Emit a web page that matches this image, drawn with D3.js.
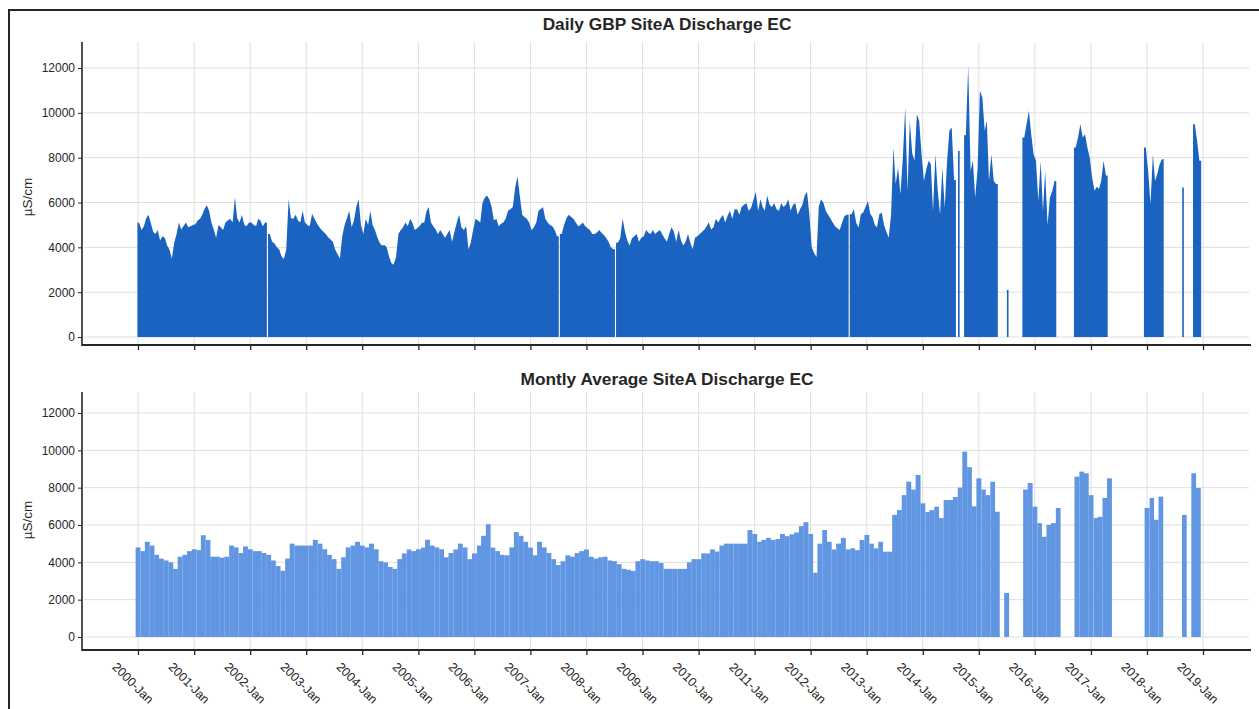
<!DOCTYPE html>
<html>
<head>
<meta charset="utf-8">
<script src="https://cdn.jsdelivr.net/npm/d3@7"></script>
<style>
  body { margin: 0; background: #fff; }
  svg { display: block; }
  text { font-family: "Liberation Sans", Arial, sans-serif; }
</style>
</head>
<body>
<svg id="chart" width="1259" height="709"></svg>
<script>
// ---- data -------------------------------------------------------------
const years = d3.range(2000, 2020);
const yearLabels = years.map(y => `${y}-Jan`);
const yTicks = [0, 2000, 4000, 6000, 8000, 10000, 12000];
const unitLabel = "µS/cm";
const titles = ["Daily GBP SiteA Discharge EC", "Montly Average SiteA Discharge EC"];

// Discharge EC (µS/cm), sampled on the 1st and 16th of each month, 2000-01 .. 2018-12
const dailyEC = [
  // 2000
  5100, 4770, 4940, 5300, 5450, 5110, 4700, 4600, 4770, 4300, 4500, 4430,
  4080, 3900, 3500, 4200, 4600, 5110, 4800, 4950, 5110, 4900, 4940, 5000,
  // 2001
  5030, 5200, 5280, 5450, 5700, 5880, 5630, 5100, 4800, 4430, 5000, 4900,
  4770, 5110, 5200, 5280, 5110, 6230, 5300, 5110, 5450, 5000, 4940, 5110,
  // 2002
  5110, 5000, 4940, 5280, 5200, 4940, 5110, null, 4600, 4250, 4170, 4000,
  3910, 3600, 3480, 3900, 6140, 5300, 5280, 5450, 5200, 5110, 5630, 5110,
  // 2003
  5000, 4940, 5500, 5300, 5110, 4940, 4800, 4700, 4600, 4450, 4350, 4250,
  3900, 3700, 3500, 4500, 5000, 5300, 5630, 4900, 5200, 5800, 6140, 5000,
  // 2004
  4600, 5280, 5000, 5630, 5000, 4770, 4450, 4200, 4080, 4100, 4000, 3600,
  3300, 3220, 3570, 4600, 4770, 4900, 5110, 4940, 5280, 5100, 4770, 4850,
  // 2005
  4940, 5100, 5110, 5600, 5800, 5110, 4940, 4800, 4600, 4770, 4600, 4430,
  4600, 4770, 4250, 4700, 5110, 5450, 4900, 4770, 4940, 3900, 4200, 4770,
  // 2006
  5280, 5200, 5110, 5970, 6200, 6310, 6140, 5800, 5200, 5280, 4940, 5050,
  5110, 5280, 5630, 5700, 5800, 6650, 7170, 6300, 5450, 5350, 5280, 5110,
  // 2007
  4770, 4900, 5110, 5630, 5700, 5800, 5280, 5110, 5000, 4940, 4770, 4500,
  null, 4600, 5000, 5300, 5450, 5350, 5280, 5110, 4940, 5000, 5110, 4940,
  // 2008
  4850, 4770, 4600, 4600, 4650, 4770, 4650, 4550, 4430, 4250, 4000, 3910,
  null, 4200, 4400, 5280, 4700, 4300, 4080, 4400, 4500, 4600, 4250, 4430,
  // 2009
  4500, 4770, 4650, 4600, 4770, 4600, 4700, 4770, 4600, 4400, 4250, 4600,
  4900, 4700, 4250, 4770, 4300, 4080, 4250, 4600, 4200, 3910, 4430, 4500,
  // 2010
  4600, 4700, 4800, 4940, 5110, 4800, 4900, 5280, 5110, 5300, 5450, 5110,
  5400, 5630, 5280, 5700, 5700, 5450, 5800, 5900, 5970, 5630, 5750, 6100,
  // 2011
  6480, 5630, 6140, 5800, 5630, 6310, 5900, 5800, 5970, 5700, 5630, 5970,
  5800, 5900, 6140, 5630, 5900, 5970, 5450, 5700, 5900, 6310, 6480, 5450,
  // 2012
  4000, 3740, 3570, 5800, 6140, 6000, 5630, 5450, 5300, 5110, 4940, 4850,
  4770, 5100, 5400, 5450, null, 5480, 5700, 5100, 4880, 5480, 5550, 5800,
  // 2013
  6070, 5500, 5330, 5000, 4900, 5480, 5550, 5000, 4700, 4430, 5480, 8450,
  6820, 7560, 6370, 8000, 10240, 6520, 9640, 8200, 7860, 9940, 9640, 8150,
  // 2014
  6960, 7500, 7860, 7710, 5620, 8150, 6520, 5480, 7560, 5770, 7860, 9200,
  9350, 7000, null, 8300, null, null, 9000, 12100, 7410, 7860, 6220, 7500,
  // 2015
  10980, 10680, 9200, 9640, 6960, 8150, 6960, 6820, null, null, null, null,
  2100, null, null, null, null, null, null, 8900, 9500, 10090, 9050, 8150,
  // 2016
  7860, 6070, 7860, 5620, 7410, 5000, 6220, 6500, 6960, null, null, null,
  null, null, null, null, null, 8450, 8900, 9490, 8900, 9050, 8450, 8000,
  // 2017
  7110, 6520, 6700, 6600, 6960, 7860, 7200, null, null, null, null, null,
  null, null, null, null, null, null, null, null, null, null, null, 8450,
  // 2018
  7410, 5920, 8150, 6960, 7260, 7700, 7930, null, null, null, null, null,
  null, null, null, 6670, null, null, null, null, 9490, 8750, 7860, null
];

// Monthly mean discharge EC (µS/cm), 2000-01 .. 2018-12
const monthlyEC = [
  // 2000
  4800, 4600, 5100, 4900, 4400, 4200, 4100, 4000, 3650, 4300, 4400, 4600,
  // 2001
  4700, 4650, 5450, 5200, 4300, 4300, 4250, 4300, 4900, 4800, 4500, 4850,
  // 2002
  4700, 4600, 4600, 4500, 4400, 4100, 3800, 3550, 4200, 5000, 4900, 4900,
  // 2003
  4900, 4900, 5200, 5000, 4700, 4400, 4170, 3650, 4270, 4800, 4900, 5100,
  // 2004
  4900, 4800, 5000, 4700, 4060, 4000, 3750, 3650, 4170, 4480, 4690, 4600,
  // 2005
  4700, 4790, 5210, 4900, 4800, 4700, 4270, 4500, 4690, 5000, 4800, 4170,
  // 2006
  4480, 4900, 5420, 6040, 4790, 4600, 4400, 4375, 4800, 5620, 5420, 5100,
  // 2007
  4790, 4375, 5100, 4800, 4500, 4170, 3850, 4060, 4375, 4300, 4500, 4600,
  // 2008
  4690, 4300, 4200, 4270, 4300, 4100, 4060, 3900, 3650, 3600, 3540, 4060,
  // 2009
  4170, 4100, 4060, 4060, 3960, 3650, 3650, 3650, 3650, 3650, 4000, 4170,
  // 2010
  4170, 4480, 4480, 4690, 4580, 4900, 5000, 5000, 5000, 5000, 5000, 5730,
  // 2011
  5520, 5100, 5200, 5310, 5200, 5250, 5520, 5400, 5500, 5600, 5940, 6150,
  // 2012
  5520, 3440, 5000, 5730, 5100, 4690, 5000, 5310, 4690, 4750, 4650, 5200,
  // 2013
  5470, 5000, 4750, 5100, 4570, 4570, 6540, 6800, 7600, 8320, 7900, 8680,
  // 2014
  7160, 6700, 6800, 6980, 6370, 7340, 7340, 7500, 8000, 9930, 9100, 7000,
  // 2015
  8500, 7900, 7600, 8320, 6710, null, 2360, null, null, null, 7900, 8250,
  // 2016
  6980, 6100, 5370, 6010, 6100, 6910, null, null, null, 8590, 8860, 8770,
  // 2017
  7600, 6370, 6440, 7450, 8500, null, null, null, null, null, null, null,
  // 2018
  6910, 7450, 6280, 7520, null, null, null, null, 6540, null, 8770, 7980
];

// ---- layout -----------------------------------------------------------
const svg = d3.select("#chart");
const axisLeftX = 82, axisRightX = 1251;
const dailyColor = "#1b63c0";
const monthlyColor = "#6196e2";
const gridColor = "#dedede";
const inkColor = "#262626";

const x = d3.scaleTime()
  .domain([new Date(2000, 0, 1), new Date(2019, 0, 1)])
  .range([138, 1203]);
const yearDates = years.map(y => new Date(y, 0, 1));

const panels = [
  { title: titles[0], titleY: 30, top: 42, axisY: 345, labelY: 197,
    y: d3.scaleLinear().domain([0, 12000]).range([337, 68]) },
  { title: titles[1], titleY: 385, top: 392, axisY: 650, labelY: 520,
    y: d3.scaleLinear().domain([0, 12000]).range([637, 413]) }
];

// outer frame
svg.append("path")
  .attr("d", "M9,709V10H1259")
  .attr("fill", "none").attr("stroke", inkColor).attr("stroke-width", 2);

// sample k -> date (1st or 16th of the month)
const sampleDate = k => new Date(2000 + Math.floor(k / 24), Math.floor((k % 24) / 2), k % 2 ? 16 : 1);

// split the sampled series into runs of consecutive values
function sampleRuns(values) {
  const runs = [];
  let cur = null;
  values.forEach((v, k) => {
    if (v == null) { cur = null; return; }
    if (!cur) { cur = []; runs.push(cur); }
    cur.push({ k, v });
  });
  return runs;
}

panels.forEach((p, i) => {
  const g = svg.append("g");

  // gridlines
  g.append("g").selectAll("line").data(yTicks).join("line")
    .attr("x1", axisLeftX + 2).attr("x2", axisRightX - 2)
    .attr("y1", d => p.y(d)).attr("y2", d => p.y(d))
    .attr("stroke", gridColor).attr("stroke-width", 1);
  g.append("g").selectAll("line").data(yearDates).join("line")
    .attr("x1", d => x(d)).attr("x2", d => x(d))
    .attr("y1", p.top).attr("y2", p.axisY)
    .attr("stroke", gridColor).attr("stroke-width", 1);

  // marks
  if (i === 0) {
    const runs = sampleRuns(dailyEC);
    const mid = k => (x(sampleDate(k)) + x(sampleDate(k + 1))) / 2;
    const area = d3.area()
      .x(d => d.px)
      .y0(p.y(0))
      .y1(d => p.y(d.v))
      .curve(d3.curveLinear);
    const marks = g.append("g");
    runs.forEach(run => {
      if (run.length === 1) {
        // an isolated reading: a single thin spike
        const d = run[0];
        marks.append("rect")
          .attr("x", mid(d.k) - 0.8).attr("width", 1.6)
          .attr("y", p.y(d.v)).attr("height", p.y(0) - p.y(d.v))
          .attr("fill", dailyColor);
        return;
      }
      const first = run[0], last = run[run.length - 1];
      const pts = [{ px: x(sampleDate(first.k)) - 0.6, v: first.v }]
        .concat(run.map(d => ({ px: mid(d.k), v: d.v })))
        .concat([{ px: x(sampleDate(last.k + 1)) + 0.6, v: last.v }]);
      marks.append("path")
        .attr("d", area(pts))
        .attr("fill", dailyColor);
    });
  } else {
    g.append("g").selectAll("rect")
      .data(monthlyEC.map((v, m) => ({ v, m })).filter(d => d.v != null))
      .join("rect")
      .attr("x", d => {
        const d0 = new Date(2000, d.m, 1), d1 = new Date(2000, d.m + 1, 1);
        return x(d0) - (x(d1) - x(d0)) / 2;
      })
      .attr("width", d => x(new Date(2000, d.m + 1, 1)) - x(new Date(2000, d.m, 1)) + 0.15)
      .attr("y", d => p.y(d.v))
      .attr("height", d => p.y(0) - p.y(d.v))
      .attr("fill", monthlyColor);
  }

  // y axis
  const yAxis = g.append("g")
    .attr("transform", `translate(${axisLeftX},0)`)
    .call(d3.axisLeft(p.y).tickValues(yTicks).tickSize(4).tickPadding(3).tickFormat(d3.format("d")));
  yAxis.select(".domain").remove();
  yAxis.selectAll(".tick line").attr("stroke", inkColor);
  yAxis.selectAll(".tick text")
    .attr("fill", inkColor).style("font-size", "12px")
    .style("font-family", '"Liberation Sans", Arial, sans-serif');
  g.append("line")
    .attr("x1", axisLeftX).attr("x2", axisLeftX)
    .attr("y1", p.top).attr("y2", p.axisY + 1)
    .attr("stroke", inkColor).attr("stroke-width", 1.6);

  // x axis
  const xAxis = g.append("g")
    .attr("transform", `translate(0,${p.axisY})`)
    .call(d3.axisBottom(x).tickValues(yearDates).tickSize(5).tickFormat(""));
  xAxis.select(".domain").remove();
  xAxis.selectAll(".tick line").attr("stroke", inkColor).attr("stroke-width", 1.3);
  g.append("line")
    .attr("x1", axisLeftX).attr("x2", axisRightX)
    .attr("y1", p.axisY).attr("y2", p.axisY)
    .attr("stroke", inkColor).attr("stroke-width", 2);

  if (i === 1) {
    g.append("g").selectAll("text").data(yearDates).join("text")
      .attr("transform", d => `translate(${x(d) - 5},${p.axisY + 33}) rotate(45)`)
      .attr("text-anchor", "middle")
      .attr("dy", "0.35em")
      .attr("fill", inkColor)
      .style("font-size", "12.5px")
      .text((d, j) => yearLabels[j]);
  }

  // title
  g.append("text")
    .attr("x", 667).attr("y", p.titleY)
    .attr("text-anchor", "middle")
    .attr("fill", inkColor)
    .style("font-size", "17.3px").style("font-weight", "bold")
    .text(p.title);

  // y label
  g.append("text")
    .attr("transform", `translate(27,${p.labelY}) rotate(-90)`)
    .attr("text-anchor", "middle")
    .attr("dy", "0.35em")
    .attr("fill", inkColor)
    .style("font-size", "13.5px")
    .text(unitLabel);
});
</script>
</body>
</html>
